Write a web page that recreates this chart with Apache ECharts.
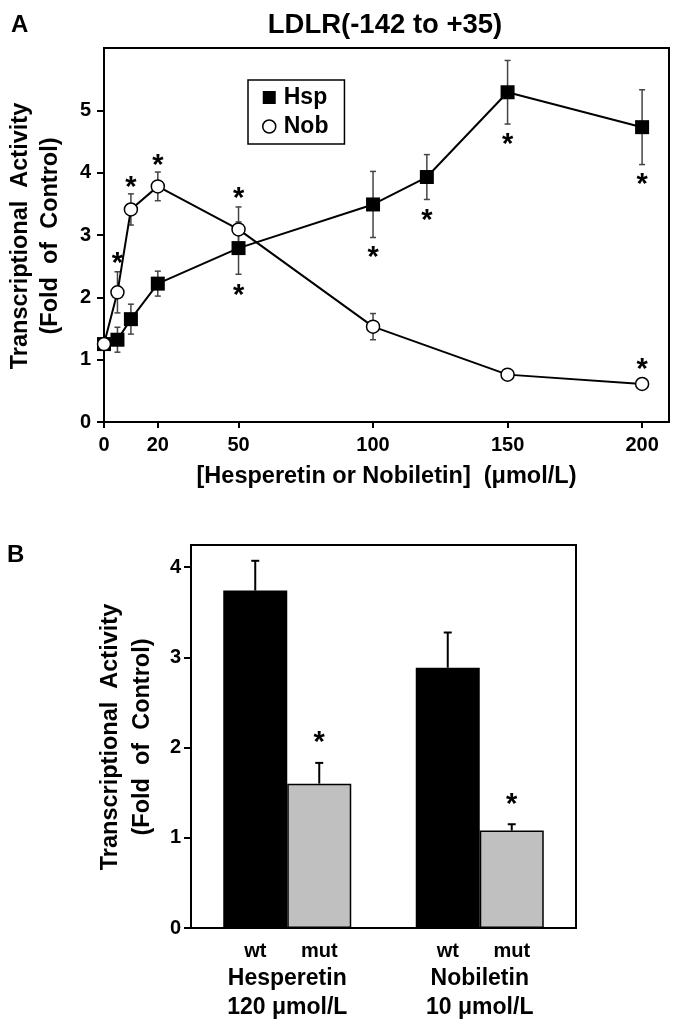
<!DOCTYPE html>
<html>
<head>
<meta charset="utf-8">
<script src="https://cdn.jsdelivr.net/npm/echarts@6/dist/echarts.min.js"></script>
<style>html,body{margin:0;padding:0;background:#fff}#c{width:677px;height:1032px}</style>
</head>
<body>
<div id="c"></div>
<script>
// ---------- Panel A data ----------
const hspDose = [0, 5, 10, 20, 50, 100, 120, 150, 200];
const hspMean = [1.25, 1.32, 1.65, 2.22, 2.79, 3.49, 3.93, 5.29, 4.73];
const hspErr  = [0, 0.20, 0.24, 0.20, 0.42, 0.53, 0.36, 0.51, 0.60];
const nobDose = [0, 5, 10, 20, 50, 100, 150, 200];
const nobMean = [1.25, 2.08, 3.41, 3.78, 3.09, 1.53, 0.76, 0.61];
const nobErr  = [0, 0.33, 0.25, 0.23, 0.36, 0.21, 0.05, 0.04];
const starADose = [5, 10, 20, 50, 50, 100, 120, 150, 200, 200];
const starAVal  = [2.63, 3.86, 4.21, 3.68, 2.13, 2.74, 3.33, 4.55, 3.90, 0.94];
const xTicksA = [0, 20, 50, 100, 150, 200];
const yTicksA = [0, 1, 2, 3, 4, 5];

// ---------- Panel B data ----------
const compounds = ['Hesperetin', 'Nobiletin'];
const doseLabels = ['120 μmol/L', '10 μmol/L'];
const wtMean = [3.74, 2.885];
const wtErr  = [0.33, 0.39];
const mutMean = [1.60, 1.08];
const mutErr  = [0.23, 0.07];
const mutStar = [2.12, 1.43];
const yTicksB = [0, 1, 2, 3, 4];

const FONT = 'Liberation Sans';
const BAR_W = 64;
const STAR_FS = 29;
const TITLE_FS = 23.5;

const chart = echarts.init(document.getElementById('c'), null, {renderer: 'canvas'});

function errRenderer(color, capHalf, lw, both) {
  return function (params, api) {
    const x = api.value(0), y = api.value(1), e = api.value(2);
    const off = api.value(3) || 0;
    const top = api.coord([x, y + e]);
    const bot = both ? api.coord([x, y - e]) : api.coord([x, y]);
    const cx = top[0] + off;
    const st = {stroke: color, lineWidth: lw};
    return {
      type: 'group',
      children: [
        {type: 'line', shape: {x1: cx, y1: top[1], x2: cx, y2: bot[1]}, style: st},
        {type: 'line', shape: {x1: cx - capHalf, y1: top[1], x2: cx + capHalf, y2: top[1]}, style: st},
        both ? {type: 'line', shape: {x1: cx - capHalf, y1: bot[1], x2: cx + capHalf, y2: bot[1]}, style: st} : {type: 'group'}
      ]
    };
  };
}

function starRenderer(params, api) {
  const p = api.coord([api.value(0), api.value(1)]);
  const off = api.value(2) || 0;
  return {
    type: 'text',
    x: p[0] + off,
    y: p[1] + STAR_FS * 0.22,
    style: {text: '*', fontSize: STAR_FS, fontWeight: 'bold', fontFamily: FONT, fill: '#000', align: 'center', verticalAlign: 'middle'}
  };
}

const axisTextA = {color: '#000', fontSize: 20, fontWeight: 'bold', fontFamily: FONT};
const titleStyle = {fontSize: TITLE_FS, fontWeight: 'bold', fontFamily: FONT, fill: '#000', align: 'center', verticalAlign: 'middle'};

const option = {
  animation: false,
  backgroundColor: '#fff',
  textStyle: {fontFamily: FONT},
  grid: [
    {left: 104, right: 8, top: 48, bottom: 610, show: true, borderColor: '#000', borderWidth: 2, backgroundColor: 'transparent'},
    {left: 191, right: 101, top: 545, bottom: 104, show: true, borderColor: '#000', borderWidth: 2, backgroundColor: 'transparent'}
  ],
  legend: {
    left: 248, top: 80,
    orient: 'vertical',
    padding: [6, 16, 6, 14],
    itemGap: 6,
    itemWidth: 13, itemHeight: 13,
    borderColor: '#000', borderWidth: 1.5,
    textStyle: {fontSize: 23, fontWeight: 'bold', fontFamily: FONT, color: '#000', padding: [0, 0, 0, 3]},
    data: [
      {name: 'Hsp', icon: 'rect', itemStyle: {color: '#000', borderWidth: 0}},
      {name: 'Nob', icon: 'circle', itemStyle: {color: '#fff', borderColor: '#000', borderWidth: 1.5}}
    ]
  },
  xAxis: [
    {
      type: 'value', gridIndex: 0, min: 0, max: 210,
      axisLine: {show: true, lineStyle: {color: '#000', width: 2}},
      axisTick: {show: true, customValues: xTicksA, length: 6, lineStyle: {color: '#000', width: 2}},
      axisLabel: {customValues: xTicksA, margin: 13, ...axisTextA},
      splitLine: {show: false},
      name: '[Hesperetin or Nobiletin]  (μmol/L)',
      nameLocation: 'middle', nameGap: 43,
      nameTextStyle: {fontSize: 23.5, fontWeight: 'bold', fontFamily: FONT, color: '#000'}
    },
    {
      type: 'category', gridIndex: 1, data: compounds,
      axisLine: {show: true, lineStyle: {color: '#000', width: 2}},
      axisTick: {show: false},
      axisLabel: {
        margin: 36, color: '#000', fontSize: 23, fontWeight: 'bold', fontFamily: FONT, lineHeight: 29,
        formatter: function (v, i) { return v + '\n' + doseLabels[i]; }
      }
    }
  ],
  yAxis: [
    {
      type: 'value', gridIndex: 0, min: 0, max: 6,
      axisLine: {show: true, lineStyle: {color: '#000', width: 2}},
      axisTick: {show: true, customValues: yTicksA, length: 7, lineStyle: {color: '#000', width: 2}},
      axisLabel: {customValues: yTicksA, margin: 13, ...axisTextA},
      splitLine: {show: false}
    },
    {
      type: 'value', gridIndex: 1, min: 0, max: 4.245,
      axisLine: {show: true, lineStyle: {color: '#000', width: 2}},
      axisTick: {show: true, customValues: yTicksB, length: 7, lineStyle: {color: '#000', width: 2}},
      axisLabel: {customValues: yTicksB, margin: 10, ...axisTextA},
      splitLine: {show: false}
    }
  ],
  graphic: [
    {type: 'text', x: 11, y: 25, style: {text: 'A', fontSize: 24, fontWeight: 'bold', fontFamily: FONT, fill: '#000', verticalAlign: 'middle'}},
    {type: 'text', x: 7, y: 555, style: {text: 'B', fontSize: 24, fontWeight: 'bold', fontFamily: FONT, fill: '#000', verticalAlign: 'middle'}},
    {type: 'text', x: 385, y: 25, style: {text: 'LDLR(-142 to +35)', fontSize: 27.5, fontWeight: 'bold', fontFamily: FONT, fill: '#000', align: 'center', verticalAlign: 'middle'}},
    {type: 'text', x: 21, y: 236, rotation: Math.PI / 2, style: {text: 'Transcriptional  Activity', ...titleStyle}},
    {type: 'text', x: 51, y: 236, rotation: Math.PI / 2, style: {text: '(Fold  of  Control)', ...titleStyle}},
    {type: 'text', x: 111, y: 737, rotation: Math.PI / 2, style: {text: 'Transcriptional  Activity', ...titleStyle}},
    {type: 'text', x: 143, y: 737, rotation: Math.PI / 2, style: {text: '(Fold  of  Control)', ...titleStyle}}
  ],
  series: [
    {
      name: 'HspErr', type: 'custom', xAxisIndex: 0, yAxisIndex: 0, z: 1,
      renderItem: errRenderer('#444', 3, 1.5, true),
      data: hspDose.map((d, i) => [d, hspMean[i], hspErr[i], 0])
    },
    {
      name: 'NobErr', type: 'custom', xAxisIndex: 0, yAxisIndex: 0, z: 1,
      renderItem: errRenderer('#444', 3, 1.5, true),
      data: nobDose.map((d, i) => [d, nobMean[i], nobErr[i], 0])
    },
    {
      name: 'Hsp', type: 'line', xAxisIndex: 0, yAxisIndex: 0, z: 3,
      symbol: 'rect', symbolSize: 14, showAllSymbol: true,
      lineStyle: {color: '#000', width: 2},
      itemStyle: {color: '#000', borderWidth: 0},
      data: hspDose.map((d, i) => [d, hspMean[i]])
    },
    {
      name: 'Nob', type: 'line', xAxisIndex: 0, yAxisIndex: 0, z: 4,
      symbol: 'circle', symbolSize: 13, showAllSymbol: true,
      lineStyle: {color: '#000', width: 2},
      itemStyle: {color: '#fff', borderColor: '#000', borderWidth: 1.5},
      data: nobDose.map((d, i) => [d, nobMean[i]])
    },
    {
      name: 'StarsA', type: 'custom', xAxisIndex: 0, yAxisIndex: 0, z: 5,
      renderItem: starRenderer,
      data: starADose.map((d, i) => [d, starAVal[i], 0])
    },
    {
      name: 'wt', type: 'bar', xAxisIndex: 1, yAxisIndex: 1,
      barWidth: BAR_W, barGap: '0%',
      itemStyle: {color: '#000', borderColor: '#000', borderWidth: 1.5},
      label: {show: true, position: 'bottom', distance: 13, formatter: '{a}', color: '#000', fontSize: 20, fontWeight: 'bold', fontFamily: FONT},
      data: wtMean
    },
    {
      name: 'mut', type: 'bar', xAxisIndex: 1, yAxisIndex: 1,
      barWidth: BAR_W, barGap: '0%',
      itemStyle: {color: '#c0c0c0', borderColor: '#000', borderWidth: 1.5},
      label: {show: true, position: 'bottom', distance: 13, formatter: '{a}', color: '#000', fontSize: 20, fontWeight: 'bold', fontFamily: FONT},
      data: mutMean
    },
    {
      name: 'wtErr', type: 'custom', xAxisIndex: 1, yAxisIndex: 1, z: 3,
      renderItem: errRenderer('#000', 4, 2, false),
      data: compounds.map((c, i) => [i, wtMean[i], wtErr[i], -BAR_W / 2])
    },
    {
      name: 'mutErr', type: 'custom', xAxisIndex: 1, yAxisIndex: 1, z: 3,
      renderItem: errRenderer('#000', 4, 2, false),
      data: compounds.map((c, i) => [i, mutMean[i], mutErr[i], BAR_W / 2])
    },
    {
      name: 'StarsB', type: 'custom', xAxisIndex: 1, yAxisIndex: 1, z: 5,
      renderItem: starRenderer,
      data: compounds.map((c, i) => [i, mutStar[i], BAR_W / 2])
    }
  ]
};
chart.setOption(option);
</script>
</body>
</html>
